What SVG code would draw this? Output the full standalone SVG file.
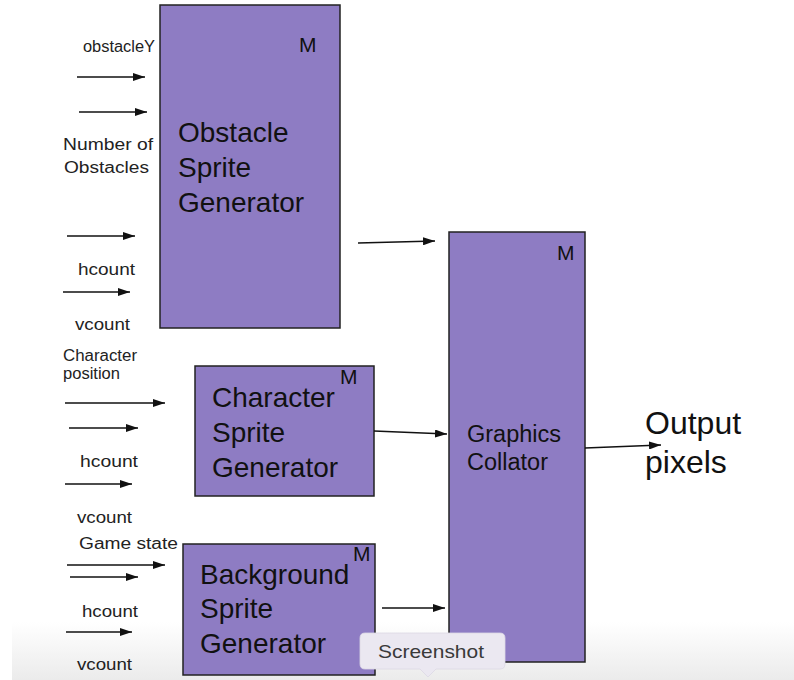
<svg xmlns="http://www.w3.org/2000/svg" width="794" height="680" viewBox="0 0 794 680">
  <defs>
    <marker id="ah" viewBox="0 0 12 8" refX="12" refY="4" markerWidth="12" markerHeight="8" markerUnits="userSpaceOnUse" orient="auto">
      <path d="M0,0 L12,4 L0,8 z" fill="#111"/>
    </marker>
    <linearGradient id="bar" x1="0" y1="0" x2="0" y2="1">
      <stop offset="0" stop-color="#ffffff"/>
      <stop offset="1" stop-color="#ebebeb"/>
    </linearGradient>
    <style>
      .box { fill: #8e7cc3; stroke: #222; stroke-width: 1.5; }
      .big { font-family: "Liberation Sans", Arial, sans-serif; font-size: 28px; fill: #111; }
      .mid { font-family: "Liberation Sans", Arial, sans-serif; font-size: 23.5px; fill: #111; }
      .m { font-family: "Liberation Sans", Arial, sans-serif; font-size: 21px; fill: #111; }
      .lbl { font-family: "Liberation Sans", Arial, sans-serif; font-size: 16px; fill: #222; }
      .out { font-family: "Liberation Sans", Arial, sans-serif; font-size: 32px; fill: #111; }
      .arr { stroke: #111; stroke-width: 1.6; fill: none; marker-end: url(#ah); }
    </style>
  </defs>
  <rect width="794" height="680" fill="#ffffff"/>
  <rect x="12" y="622" width="782" height="58" fill="url(#bar)"/>

  <g id="obstacle">
    <rect class="box" x="160" y="5" width="180" height="323"/>
    <text class="m" x="299" y="52">M</text>
    <text class="big" x="178" y="142">Obstacle</text>
    <text class="big" x="178" y="177">Sprite</text>
    <text class="big" x="178" y="212">Generator</text>
  </g>

  <g id="character">
    <rect class="box" x="195" y="366" width="179" height="130"/>
    <text class="m" x="340" y="384">M</text>
    <text class="big" x="212" y="407">Character</text>
    <text class="big" x="212" y="442">Sprite</text>
    <text class="big" x="212" y="477">Generator</text>
  </g>

  <g id="background">
    <rect class="box" x="183" y="544" width="192" height="131"/>
    <text class="m" x="353" y="561" font-size="19">M</text>
    <text class="big" x="200" y="584">Background</text>
    <text class="big" x="200" y="618">Sprite</text>
    <text class="big" x="200" y="653">Generator</text>
  </g>

  <g id="collator">
    <rect class="box" x="449" y="232" width="136" height="430"/>
    <text class="m" x="557" y="260">M</text>
    <text class="mid" x="467" y="442">Graphics</text>
    <text class="mid" x="467" y="470">Collator</text>
  </g>

  <g id="output">
    <text class="out" x="645" y="434">Output</text>
    <text class="out" x="645" y="473">pixels</text>
  </g>

  <g id="input-labels">
    <text class="lbl" x="83" y="52" textLength="72" lengthAdjust="spacingAndGlyphs">obstacleY</text>
    <text class="lbl" x="63" y="150" textLength="90" lengthAdjust="spacingAndGlyphs">Number of</text>
    <text class="lbl" x="64" y="173" textLength="85" lengthAdjust="spacingAndGlyphs">Obstacles</text>
    <text class="lbl" x="78" y="275" textLength="57" lengthAdjust="spacingAndGlyphs">hcount</text>
    <text class="lbl" x="75" y="330" textLength="55" lengthAdjust="spacingAndGlyphs">vcount</text>
    <text class="lbl" x="63" y="361" textLength="74" lengthAdjust="spacingAndGlyphs">Character</text>
    <text class="lbl" x="63" y="379" textLength="57" lengthAdjust="spacingAndGlyphs">position</text>
    <text class="lbl" x="80" y="467" textLength="58" lengthAdjust="spacingAndGlyphs">hcount</text>
    <text class="lbl" x="77" y="523" textLength="55" lengthAdjust="spacingAndGlyphs">vcount</text>
    <text class="lbl" x="79" y="549" textLength="99" lengthAdjust="spacingAndGlyphs">Game state</text>
    <text class="lbl" x="82" y="617" textLength="56" lengthAdjust="spacingAndGlyphs">hcount</text>
    <text class="lbl" x="77" y="670" textLength="55" lengthAdjust="spacingAndGlyphs">vcount</text>
  </g>

  <g id="connectors">
    <line class="arr" x1="77" y1="77" x2="145" y2="77"/>
    <line class="arr" x1="79" y1="112" x2="147" y2="112"/>
    <line class="arr" x1="67" y1="236" x2="135" y2="236"/>
    <line class="arr" x1="63" y1="292" x2="130" y2="292"/>
    <line class="arr" x1="65" y1="403" x2="165" y2="403"/>
    <line class="arr" x1="69" y1="428" x2="138" y2="428"/>
    <line class="arr" x1="65" y1="484" x2="132" y2="484"/>
    <line class="arr" x1="67" y1="565" x2="165" y2="565"/>
    <line class="arr" x1="70" y1="577" x2="138" y2="577"/>
    <line class="arr" x1="66" y1="632" x2="132" y2="632"/>
    <line class="arr" x1="358" y1="243" x2="435" y2="241"/>
    <line class="arr" x1="374" y1="431" x2="447" y2="434"/>
    <line class="arr" x1="382" y1="608" x2="445" y2="608"/>
    <line class="arr" x1="585" y1="448" x2="661" y2="445"/>
  </g>

  <g id="tooltip">
    <path d="M365,633 H500 Q505,633 505,638 V664 Q505,669 500,669 H436 L428,677 L420,669 H365 Q360,669 360,664 V638 Q360,633 365,633 Z" fill="#ebe8f1" stroke="#dcd8e4" stroke-width="0.8"/>
    <text x="378" y="658" font-family="'Liberation Sans', Arial, sans-serif" font-size="19" fill="#3a3a3a" textLength="106" lengthAdjust="spacingAndGlyphs">Screenshot</text>
  </g>
</svg>
